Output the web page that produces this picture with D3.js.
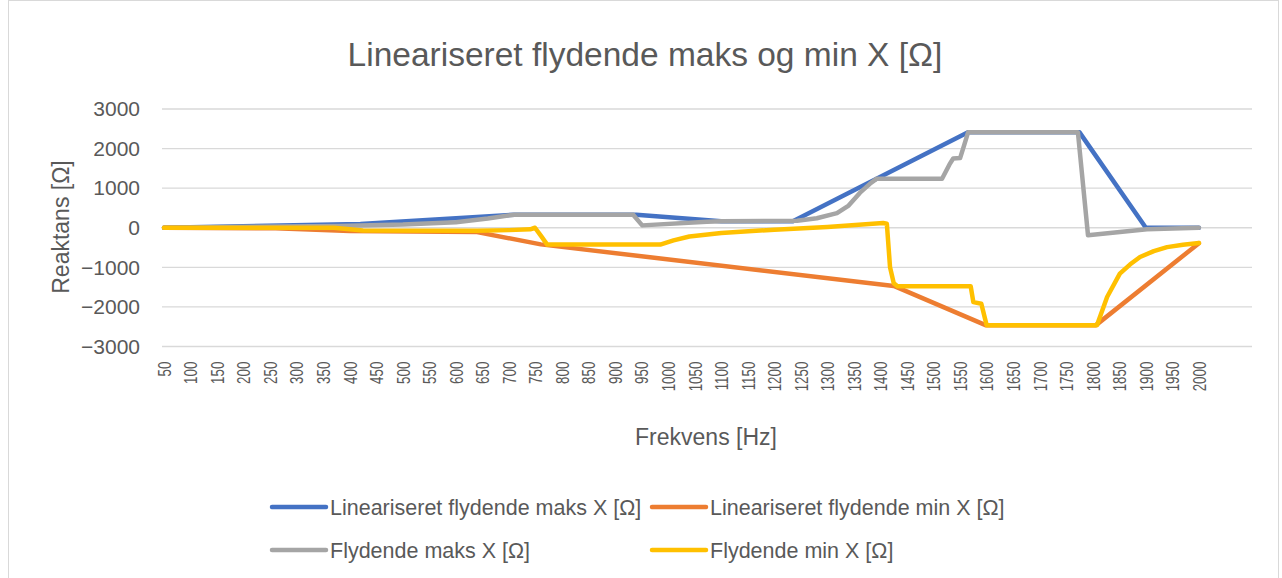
<!DOCTYPE html>
<meta charset="utf-8">
<style>
body { margin: 0; background: #fff; }
svg { font-family: "Liberation Sans", Arial, sans-serif; }
.grid line { stroke: #d9d9d9; stroke-width: 1.3; }
.ylab text { fill: #595959; font-size: 21px; }
.xlab text { fill: #595959; font-size: 18px; }
.legend text { fill: #595959; font-size: 21.5px; }
.series { fill: none; stroke-width: 4.5; stroke-linejoin: round; stroke-linecap: round; }
</style>
<svg width="1282" height="578"></svg>
<script src="https://d3js.org/d3.v7.min.js"></script>
<script>
// tick labels
var yTicks = [-3000, -2000, -1000, 0, 1000, 2000, 3000];
var xTicks = d3.range(50, 2001, 50);

// Lineariseret flydende maks X
var linMaxF = [50, 420, 710, 940, 1100, 1235, 1565, 1775, 1900, 2000];
var linMaxV = [0, 95, 330, 330, 165, 165, 2410, 2410, 0, 0];

// Lineariseret flydende min X
var linMinF = [50, 260, 400, 640, 760, 1425, 1598, 1806, 2000];
var linMinV = [0, -15, -85, -110, -420, -1470, -2460, -2460, -390];

// Flydende maks X
var floMaxF = [50, 380, 500, 600, 660, 710, 934, 951, 1073, 1100, 1243, 1280, 1318, 1340, 1361, 1380, 1393,
               1516, 1530, 1537, 1550, 1558, 1565, 1772, 1791, 1902, 2000];
var floMaxV = [0, 45, 80, 140, 235, 330, 330, 60, 150, 165, 175, 240, 370, 560, 880, 1110, 1240,
               1240, 1600, 1750, 1760, 2100, 2410, 2410, -190, -40, 0];

// Flydende min X
var floMinF = [50, 370, 425, 640, 700, 740, 749, 760, 772, 985, 1010, 1040, 1100, 1200, 1300, 1405, 1412,
               1418, 1425, 1432, 1570, 1575, 1590, 1600, 1808, 1815, 1827, 1851, 1870, 1889, 1915, 1940, 1970, 2000];
var floMinV = [0, 0, -70, -75, -60, -40, 0, -200, -425, -425, -320, -220, -130, -50, 20, 120, 100,
               -1000, -1400, -1480, -1480, -1880, -1920, -2460, -2460, -2200, -1750, -1160, -930, -740, -590, -490, -430, -385];

var names = ["Lineariseret flydende maks X [Ω]", "Lineariseret flydende min X [Ω]",
             "Flydende maks X [Ω]", "Flydende min X [Ω]"];
var colors = ["#4472c4", "#ed7d31", "#a5a5a5", "#ffc000"];
var seriesF = [linMaxF, linMinF, floMaxF, floMinF];
var seriesV = [linMaxV, linMinV, floMaxV, floMinV];

var svg = d3.select("svg");

svg.append("rect")
    .attr("x", 8.5).attr("y", 0.5).attr("width", 1270).attr("height", 580)
    .attr("fill", "#fff").attr("stroke", "#d9d9d9");

var x = d3.scaleLinear().domain([50, 2100]).range([164, 1252]),
    y = d3.scaleLinear().domain([-3000, 3000]).range([346.5, 109]);

svg.append("text")
    .attr("x", 645).attr("y", 66)
    .attr("text-anchor", "middle")
    .attr("fill", "#595959")
    .style("font-size", "33.5px")
    .text("Lineariseret flydende maks og min X [Ω]");

svg.append("g").attr("class", "grid")
  .selectAll("line")
  .data(yTicks)
  .enter().append("line")
    .attr("x1", 162).attr("x2", 1252)
    .attr("y1", function(d) { return y(d); })
    .attr("y2", function(d) { return y(d); });

var yAxis = svg.append("g")
    .attr("class", "ylab")
    .attr("transform", "translate(148,0)")
    .call(d3.axisLeft(y).tickValues(yTicks).tickSize(0).tickPadding(8).tickFormat(d3.format("d")));
yAxis.select(".domain").remove();
yAxis.selectAll("text").attr("font-family", null).attr("font-size", null);

var xAxis = svg.append("g")
    .attr("class", "xlab")
    .attr("transform", "translate(0,358)")
    .call(d3.axisBottom(x).tickValues(xTicks).tickSize(0).tickFormat(d3.format("d")));
xAxis.select(".domain").remove();
xAxis.selectAll("text")
    .attr("font-family", null).attr("font-size", null)
    .attr("transform", "rotate(-90) scale(0.74,1)")
    .attr("text-anchor", "end")
    .attr("x", -5)
    .attr("y", 0)
    .attr("dy", "0.35em");

svg.append("text")
    .attr("transform", "translate(69,227) rotate(-90)")
    .attr("text-anchor", "middle")
    .attr("fill", "#595959")
    .style("font-size", "23px")
    .text("Reaktans [Ω]");

svg.append("text")
    .attr("x", 706).attr("y", 445)
    .attr("text-anchor", "middle")
    .attr("fill", "#595959")
    .style("font-size", "23px")
    .text("Frekvens [Hz]");

var line = d3.line()
    .x(function(d) { return x(d[0]); })
    .y(function(d) { return y(d[1]); });

seriesF.forEach(function(f, i) {
  svg.append("path")
      .attr("class", "series")
      .attr("stroke", colors[i])
      .attr("d", line(f.map(function(v, j) { return [v, seriesV[i][j]]; })));
});

var legend = svg.append("g").attr("class", "legend");
var legPos = [[270, 507], [650, 507], [270, 550], [650, 550]];
names.forEach(function(n, i) {
  var g = legend.append("g").attr("transform", "translate(" + legPos[i][0] + "," + legPos[i][1] + ")");
  g.append("line").attr("x1", 2).attr("x2", 56)
      .attr("stroke", colors[i]).attr("stroke-width", 4.5).attr("stroke-linecap", "round");
  g.append("text").attr("x", 60).attr("dy", "0.35em").text(n);
});
</script>
